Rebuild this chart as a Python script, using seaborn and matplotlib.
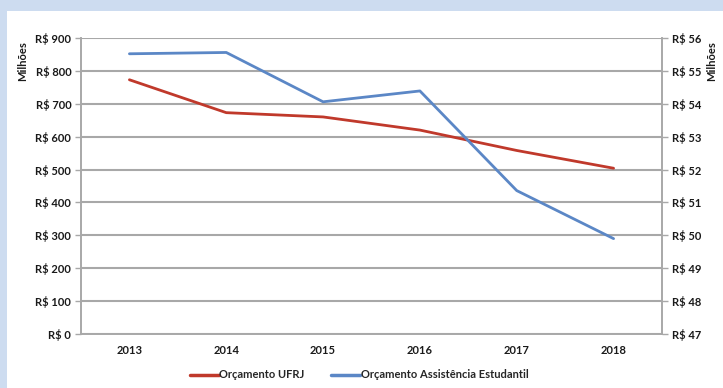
import numpy as np
import pandas as pd
import matplotlib.pyplot as plt
import matplotlib.ticker as mticker
from matplotlib.patches import Rectangle
from matplotlib.lines import Line2D
import seaborn as sns

# ── Data (R$ milhões) ─────────────────────────────────────────────────────────
years = ["2013", "2014", "2015", "2016", "2017", "2018"]
orcamento_ufrj = [773, 673, 660, 620, 558, 504]
assistencia_estudantil = [55.52, 55.56, 54.06, 54.39, 51.36, 49.90]

left_ticks = [0, 100, 200, 300, 400, 500, 600, 700, 800, 900]
right_ticks = [47, 48, 49, 50, 51, 52, 53, 54, 55, 56]

RED = "#C0392B"
BLUE = "#5B87C6"
GRID = "#A8A8A8"
TEXT = "#1A1A1A"
FRAME_BG = "#CDDCF0"
FS = 8

df = pd.DataFrame({"ano": years, "ufrj": orcamento_ufrj, "assist": assistencia_estudantil})

sns.set_theme(style="white")
plt.rcParams["font.family"] = ["Lato", "DejaVu Sans"]
plt.rcParams["font.weight"] = "bold"

W, H = 723, 388
fig = plt.figure(figsize=(W / 100, H / 100), dpi=100, facecolor=FRAME_BG)
# white card on the light blue background
fig.patches.append(Rectangle((7 / W, 0), 1 - 7 / W, 1 - 11 / H, transform=fig.transFigure,
                             facecolor="white", edgecolor="none", zorder=-10))

ax = fig.add_axes([81 / W, (H - 334) / H, (662 - 81) / W, (334 - 38) / H])
ax.set_facecolor("none")
ax2 = ax.twinx()

sns.lineplot(data=df, x="ano", y="ufrj", ax=ax, color=RED, lw=2.0, sort=False, zorder=3)
sns.lineplot(data=df, x="ano", y="assist", ax=ax2, color=BLUE, lw=2.0, sort=False, zorder=3)

ax.set_xlim(-0.5, len(years) - 0.5)
ax.set_ylim(left_ticks[0], left_ticks[-1])
ax2.set_ylim(right_ticks[0], right_ticks[-1])
ax.set_yticks(left_ticks)
ax2.set_yticks(right_ticks)
fmt = mticker.FuncFormatter(lambda v, p: f"R\\$ {v:.0f}")
ax.yaxis.set_major_formatter(fmt)
ax2.yaxis.set_major_formatter(fmt)

# category ticks: labels centred, tick marks on the boundaries
ax.set_xticks(range(len(years)))
ax.set_xticklabels(years)
ax.set_xticks(np.arange(-0.5, len(years)), minor=True)
ax.tick_params(axis="x", which="major", length=0, pad=8, labelsize=FS, colors=TEXT)
ax.tick_params(axis="x", which="minor", length=4, width=1, color=GRID, direction="out")
ax.tick_params(axis="y", length=4, width=1, color=GRID, direction="out", labelsize=FS,
               labelcolor=TEXT, pad=3)
ax2.tick_params(axis="y", length=4, width=1, color=GRID, direction="out", labelsize=FS,
                labelcolor=TEXT, pad=3)

ax.grid(axis="y", color=GRID, lw=1.5)
ax.set_axisbelow(True)
ax.set_xlabel("")
ax.set_ylabel("")
ax2.set_ylabel("")
for a in (ax, ax2):
    a.spines["top"].set_visible(False)
    for s in ("left", "right", "bottom"):
        a.spines[s].set_color(GRID)
        a.spines[s].set_linewidth(1.2)

fig.text(23 / W, 1 - 61 / H, "Milhões", rotation=90, ha="center", va="center",
         fontsize=FS, fontweight="bold", color=TEXT)
fig.text(712 / W, 1 - 61 / H, "Milhões", rotation=90, ha="center", va="center",
         fontsize=FS, fontweight="bold", color=TEXT)

handles = [Line2D([], [], color=RED, lw=2.5), Line2D([], [], color=BLUE, lw=2.5)]
fig.legend(handles, ["Orçamento UFRJ", "Orçamento Assistência Estudantil"],
           loc="center", bbox_to_anchor=(359 / W, 1 - 375 / H), ncol=2, frameon=False,
           fontsize=FS, handlelength=2.6, handletextpad=0.05, columnspacing=2.4)

fig.savefig("out.png", dpi=100, facecolor=FRAME_BG)
